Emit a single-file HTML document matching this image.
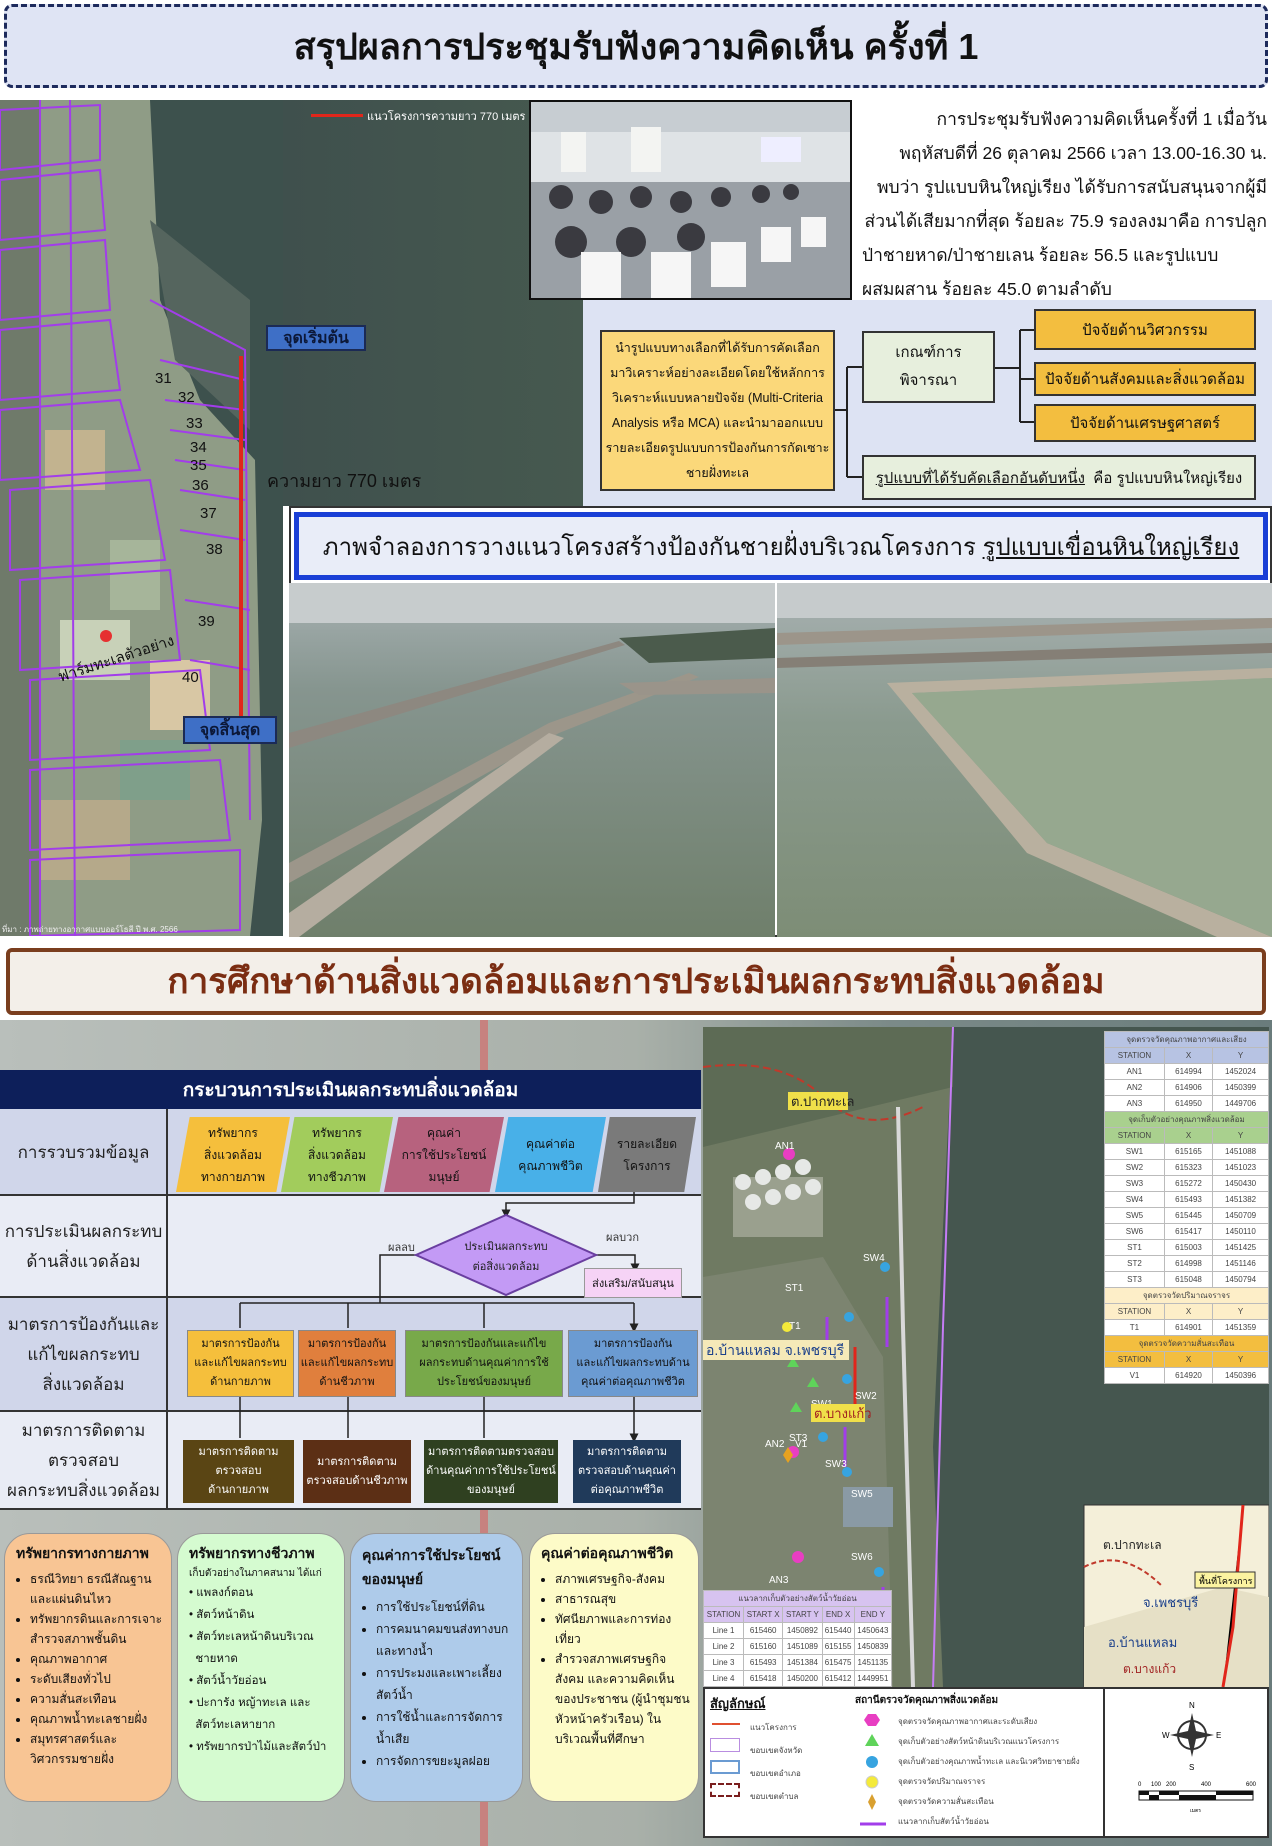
<!DOCTYPE html>
<html><head><meta charset="utf-8">
<style>
*{margin:0;padding:0;box-sizing:border-box}
body{width:1272px;height:1846px;position:relative;overflow:hidden;background:#fff;font-family:"Liberation Sans","Noto Sans CJK SC","WenQuanYi Zen Hei",sans-serif;color:#111}
.a{position:absolute}
.c{display:flex;align-items:center;justify-content:center;text-align:center}
.tb td{border:1px solid #bbb;text-align:center;font-size:8px;height:16px;color:#444}
.card{position:absolute;top:1533px;height:269px;border-radius:26px;border:1px solid #999;padding:9px 7px 8px 11px;font-size:12px;line-height:20px;overflow:hidden}
.card h4{font-size:14px;line-height:21px;margin-bottom:5px}
.card li{margin-left:14px}
.r1{position:absolute;top:1117px;height:75px;font-size:12px;line-height:22px;display:flex;align-items:center;justify-content:center;text-align:center;clip-path:polygon(12% 0,100% 0,88% 100%,0 100%)}
.b3{position:absolute;top:1330px;height:67px;font-size:11px;line-height:19px;display:flex;align-items:center;justify-content:center;text-align:center;border:1px solid #888}
.b4{position:absolute;top:1440px;height:63px;font-size:11px;line-height:19px;color:#fff;display:flex;align-items:center;justify-content:center;text-align:center}
.lab{position:absolute;left:0;width:167px;font-size:17px;line-height:30px;display:flex;align-items:center;justify-content:center;text-align:center;color:#222}
</style></head><body>

<div class="a c" style="left:4px;top:4px;width:1264px;height:84px;border:3px dashed #1d2a5c;border-radius:8px;background:#dfe4f4;font-size:36px;font-weight:bold">สรุปผลการประชุมรับฟังความคิดเห็น ครั้งที่ 1</div>

<!-- sea extension -->
<div class="a" style="left:283px;top:100px;width:300px;height:406px;background:linear-gradient(90deg,#3f504d,#46594f)"></div>

<!-- Top-left map -->
<svg class="a" style="left:0;top:100px" width="283" height="836" viewBox="0 0 283 836">
<rect width="283" height="836" fill="#3d514d"/>
<polygon points="0,0 150,0 160,200 200,300 255,360 262,720 250,836 0,836" fill="#8f9c86"/>
<polygon points="0,0 40,0 40,836 0,836" fill="#6f7a6a"/>
<rect x="45" y="330" width="60" height="60" fill="#c2b38f"/><rect x="110" y="440" width="50" height="70" fill="#a6b59a"/>
<rect x="60" y="520" width="70" height="60" fill="#c8d1b8"/><rect x="150" y="560" width="60" height="70" fill="#d8c7a4"/>
<rect x="120" y="640" width="70" height="60" fill="#7f9f8a"/><rect x="40" y="700" width="90" height="80" fill="#b5a98a"/>
<polygon points="150,120 250,200 250,330 175,260" fill="#55655e"/>
<g fill="none" stroke="#a23dea" stroke-width="2">
<path d="M0,10 L100,5 L100,60 L0,70Z M0,80 L100,70 L105,130 L0,140Z M0,150 L105,140 L110,210 L0,220Z M0,230 L110,220 L120,290 L0,300Z M0,310 L120,300 L140,370 L0,380Z M10,390 L150,380 L165,460 L10,470Z M20,480 L170,470 L180,560 L20,570Z M30,580 L200,570 L210,650 L30,660Z M30,670 L220,660 L230,740 L30,750Z M30,760 L240,750 L240,830 L30,836Z"/>
<path d="M150,200 L245,250 L250,720 M160,260 L245,280 M165,300 L245,310 M170,330 L245,340 M175,360 L245,370 M180,390 L245,400 M180,430 L245,440 M185,500 L250,510 M190,560 L250,570"/>
<path d="M40,0 L40,836 M70,0 L75,836"/>
</g>
<line x1="241" y1="256" x2="241" y2="618" stroke="#e1261b" stroke-width="4"/>
<circle cx="106" cy="536" r="6" fill="#e63030"/>
<g font-size="15" fill="#111"><text x="155" y="283">31</text><text x="178" y="302">32</text><text x="186" y="328">33</text><text x="190" y="352">34</text><text x="190" y="370">35</text><text x="192" y="390">36</text><text x="200" y="418">37</text><text x="206" y="454">38</text><text x="198" y="526">39</text><text x="182" y="582">40</text></g>
<text x="60" y="582" font-size="15" fill="#111" transform="rotate(-18 60 582)">ฟาร์มทะเลตัวอย่าง</text>
<text x="2" y="832" font-size="8" fill="#eee">ที่มา : ภาพถ่ายทางอากาศแบบออร์โธสี ปี พ.ศ. 2566</text>
</svg>
<div class="a" style="left:311px;top:114px;width:52px;height:3px;background:#e1261b"></div>
<div class="a" style="left:367px;top:107px;font-size:11px;color:#fff">แนวโครงการความยาว 770 เมตร</div>
<div class="a c" style="left:266px;top:325px;width:100px;height:26px;background:#3e6fc6;border:2px solid #1b2a55;font-size:16px;font-weight:bold;color:#0c1838">จุดเริ่มต้น</div>
<div class="a c" style="left:183px;top:716px;width:94px;height:28px;background:#3e6fc6;border:2px solid #1b2a55;font-size:16px;font-weight:bold;color:#0c1838">จุดสิ้นสุด</div>
<div class="a" style="left:267px;top:466px;font-size:18px;color:#111">ความยาว 770 เมตร</div>

<!-- Photo meeting -->
<svg class="a" style="left:529px;top:100px;border:2px solid #111" width="323" height="200">
<rect width="323" height="200" fill="#dfe3e6"/>
<rect x="0" y="0" width="323" height="30" fill="#c7cdd2"/>
<rect x="30" y="30" width="25" height="40" fill="#f3f4f2"/><rect x="100" y="25" width="30" height="45" fill="#f3f4f2"/><rect x="230" y="35" width="40" height="25" fill="#eef"/>
<rect x="0" y="80" width="323" height="120" fill="#9aa0a6"/>
<g fill="#3a3a40"><circle cx="30" cy="95" r="12"/><circle cx="70" cy="100" r="12"/><circle cx="110" cy="95" r="11"/><circle cx="150" cy="100" r="11"/><circle cx="190" cy="95" r="10"/><circle cx="230" cy="92" r="9"/><circle cx="260" cy="90" r="8"/><circle cx="40" cy="140" r="16"/><circle cx="100" cy="140" r="15"/><circle cx="160" cy="135" r="14"/></g>
<g fill="#f6f6f6"><rect x="50" y="150" width="40" height="50"/><rect x="120" y="150" width="40" height="50"/><rect x="180" y="140" width="35" height="45"/><rect x="230" y="125" width="30" height="35"/><rect x="270" y="115" width="25" height="30"/></g>
</svg>

<div class="a" style="left:862px;top:102px;width:405px;font-size:17.5px;line-height:34px;text-align:right;color:#111">
การประชุมรับฟังความคิดเห็นครั้งที่ 1 เมื่อวัน<br>พฤหัสบดีที่ 26 ตุลาคม 2566 เวลา 13.00-16.30 น.<br>พบว่า รูปแบบหินใหญ่เรียง ได้รับการสนับสนุนจากผู้มี<br>ส่วนได้เสียมากที่สุด ร้อยละ 75.9 รองลงมาคือ การปลูก<br><span style="display:inline-block;width:405px;text-align:left">ป่าชายหาด/ป่าชายเลน ร้อยละ 56.5 และรูปแบบ</span><br><span style="display:inline-block;width:405px;text-align:left">ผสมผสาน ร้อยละ 45.0 ตามลำดับ</span></div>

<div class="a" style="left:583px;top:300px;width:689px;height:206px;background:#dde3f3"></div>
<div class="a c" style="left:600px;top:330px;width:235px;height:161px;background:#fbd87a;border:2px solid #333;font-size:12.5px;line-height:25px">นำรูปแบบทางเลือกที่ได้รับการคัดเลือก<br>มาวิเคราะห์อย่างละเอียดโดยใช้หลักการ<br>วิเคราะห์แบบหลายปัจจัย (Multi-Criteria<br>Analysis หรือ MCA) และนำมาออกแบบ<br>รายละเอียดรูปแบบการป้องกันการกัดเซาะ<br>ชายฝั่งทะเล</div>
<div class="a c" style="left:862px;top:331px;width:133px;height:72px;background:#e7efdd;border:2px solid #333;font-size:15px;line-height:28px">เกณฑ์การ<br>พิจารณา</div>
<div class="a c" style="left:1034px;top:309px;width:222px;height:41px;background:#f3be3f;border:2px solid #333;font-size:15px">ปัจจัยด้านวิศวกรรม</div>
<div class="a c" style="left:1034px;top:362px;width:222px;height:34px;background:#f3be3f;border:2px solid #333;font-size:15px">ปัจจัยด้านสังคมและสิ่งแวดล้อม</div>
<div class="a c" style="left:1034px;top:404px;width:222px;height:38px;background:#f3be3f;border:2px solid #333;font-size:15px">ปัจจัยด้านเศรษฐศาสตร์</div>
<div class="a c" style="left:862px;top:455px;width:394px;height:45px;background:#e7efdd;border:2px solid #333;font-size:15px"><u>รูปแบบที่ได้รับคัดเลือกอันดับหนึ่ง</u>&nbsp; คือ รูปแบบหินใหญ่เรียง</div>
<svg class="a" style="left:835px;top:300px" width="200" height="206"><g stroke="#222" stroke-width="2" fill="none"><path d="M0,110 H12 M12,67 V177 M12,67 H27 M12,177 H27"/><path d="M160,68 H185 M185,30 V122 M185,30 H199 M185,79 H199 M185,122 H199"/></g></svg>

<div class="a" style="left:289px;top:506px;width:983px;height:431px;border:2px solid #333;background:#fff"></div>
<div class="a c" style="left:294px;top:512px;width:974px;height:68px;border:5px solid #1a3fd6;background:#e9edf8;font-size:24px">ภาพจำลองการวางแนวโครงสร้างป้องกันชายฝั่งบริเวณโครงการ&nbsp;<u>รูปแบบเขื่อนหินใหญ่เรียง</u></div>
<svg class="a" style="left:289px;top:583px" width="486" height="354">
<defs><linearGradient id="s1" x1="0" y1="0" x2="0" y2="1"><stop offset="0" stop-color="#a7b1b2"/><stop offset="0.3" stop-color="#86958f"/><stop offset="1" stop-color="#6f7f6b"/></linearGradient></defs>
<rect width="486" height="354" fill="url(#s1)"/>
<rect width="486" height="40" fill="#c7cccd"/>
<polygon points="330,55 486,45 486,75 360,80" fill="#4b5b4c"/>
<polygon points="0,150 330,58 336,62 0,165" fill="#8d8880"/>
<polygon points="0,280 260,140 400,90 410,94 270,150 0,300" fill="#9c968a"/>
<polygon points="330,100 486,95 486,110 350,112" fill="#9a948a"/>
<polygon points="0,330 260,150 275,155 10,354 0,354" fill="#b5ada0"/>
</svg>
<svg class="a" style="left:777px;top:583px" width="495" height="354">
<defs><linearGradient id="s2" x1="0" y1="0" x2="0" y2="1"><stop offset="0" stop-color="#a8b1b2"/><stop offset="0.4" stop-color="#8a9a8e"/><stop offset="1" stop-color="#7d8d76"/></linearGradient></defs>
<rect width="495" height="354" fill="url(#s2)"/>
<rect width="495" height="35" fill="#c6cbcc"/>
<polygon points="0,50 495,35 495,45 0,62" fill="#9c958a"/>
<polygon points="0,75 495,60 495,70 0,85" fill="#857f76"/>
<polygon points="110,100 495,85 495,95 135,110 270,260 495,354 440,354 250,270" fill="#b9b09f"/>
<polygon points="135,110 495,95 495,354 270,260" fill="#96a88f"/>
</svg>

<div class="a c" style="left:6px;top:948px;width:1260px;height:67px;border:4px solid #7a3e1e;border-radius:6px;background:#f3efe9;font-size:35px;font-weight:bold;color:#7b2d12">การศึกษาด้านสิ่งแวดล้อมและการประเมินผลกระทบสิ่งแวดล้อม</div>

<div class="a" style="left:0;top:1020px;width:1272px;height:826px;background:linear-gradient(90deg,#b9bfbb 0%,#a9b0a9 50%,#7b8a88 70%,#6a7c7c 100%)"></div>
<div class="a" style="left:480px;top:1020px;width:8px;height:826px;background:#d86060;opacity:.6"></div>

<div class="a" style="left:0;top:1070px;width:701px;height:440px;background:#e9ecf5;border-bottom:2px solid #333"></div>
<div class="a c" style="left:0;top:1070px;width:701px;height:39px;background:#0d1f5a;color:#fff;font-size:19px;font-weight:bold">กระบวนการประเมินผลกระทบสิ่งแวดล้อม</div>
<div class="a" style="left:0;top:1109px;width:701px;height:87px;background:#d0d6ea;border-bottom:2px solid #333"></div>
<div class="a" style="left:0;top:1196px;width:701px;height:102px;border-bottom:2px solid #333"></div>
<div class="a" style="left:0;top:1298px;width:701px;height:114px;background:#d0d6ea;border-bottom:2px solid #333"></div>
<div class="a" style="left:166px;top:1109px;width:2px;height:401px;background:#333"></div>
<div class="lab" style="top:1109px;height:87px">การรวบรวมข้อมูล</div>
<div class="lab" style="top:1196px;height:102px">การประเมินผลกระทบ<br>ด้านสิ่งแวดล้อม</div>
<div class="lab" style="top:1298px;height:114px">มาตรการป้องกันและ<br>แก้ไขผลกระทบ<br>สิ่งแวดล้อม</div>
<div class="lab" style="top:1412px;height:98px">มาตรการติดตาม<br>ตรวจสอบ<br>ผลกระทบสิ่งแวดล้อม</div>
<div class="r1" style="left:176px;width:114px;background:#f5bf3c">ทรัพยากร<br>สิ่งแวดล้อม<br>ทางกายภาพ</div>
<div class="r1" style="left:281px;width:112px;background:#a2cc5c">ทรัพยากร<br>สิ่งแวดล้อม<br>ทางชีวภาพ</div>
<div class="r1" style="left:384px;width:120px;background:#b7627e">คุณค่า<br>การใช้ประโยชน์<br>มนุษย์</div>
<div class="r1" style="left:495px;width:111px;background:#48b0e8">คุณค่าต่อ<br>คุณภาพชีวิต</div>
<div class="r1" style="left:598px;width:98px;background:#7a7a7a">รายละเอียด<br>โครงการ</div>
<svg class="a" style="left:0;top:1190px" width="701" height="260">
<defs><marker id="ar2" markerWidth="6" markerHeight="6" refX="3" refY="3" orient="auto"><path d="M0,0 L6,3 L0,6Z" fill="#222"/></marker></defs>
<g stroke="#222" stroke-width="1.5" fill="none">
<path d="M634,2 V13 H506 V24" marker-end="url(#ar2)"/>
<path d="M416,65 H380 V113"/>
<path d="M596,65 H635 V78" marker-end="url(#ar2)"/>
<path d="M240,113 H634"/>
<path d="M240,113 V138 M348,113 V138 M484,113 V138 M634,113 V138" marker-end="url(#ar2)"/>
<path d="M240,207 V248 M348,207 V248 M484,207 V248 M634,207 V248" marker-end="url(#ar2)"/>
</g>
<polygon points="506,25 596,65 506,105 416,65" fill="#c39af5" stroke="#6a3fa0" stroke-width="2"/>
<text x="506" y="60" font-size="11" text-anchor="middle" fill="#222">ประเมินผลกระทบ</text>
<text x="506" y="80" font-size="11" text-anchor="middle" fill="#222">ต่อสิ่งแวดล้อม</text>
<text x="388" y="61" font-size="11" fill="#333">ผลลบ</text>
<text x="606" y="51" font-size="11" fill="#333">ผลบวก</text>
</svg>
<div class="a c" style="left:584px;top:1268px;width:98px;height:30px;background:#f6d3f6;border:1px solid #999;font-size:11px">ส่งเสริม/สนับสนุน</div>
<div class="b3" style="left:187px;width:107px;background:#f5bf3c">มาตรการป้องกัน<br>และแก้ไขผลกระทบ<br>ด้านกายภาพ</div>
<div class="b3" style="left:298px;width:98px;background:#e07f3d">มาตรการป้องกัน<br>และแก้ไขผลกระทบ<br>ด้านชีวภาพ</div>
<div class="b3" style="left:405px;width:158px;background:#78a94a">มาตรการป้องกันและแก้ไข<br>ผลกระทบด้านคุณค่าการใช้<br>ประโยชน์ของมนุษย์</div>
<div class="b3" style="left:568px;width:130px;background:#6b9bd2">มาตรการป้องกัน<br>และแก้ไขผลกระทบด้าน<br>คุณค่าต่อคุณภาพชีวิต</div>
<div class="b4" style="left:183px;width:111px;background:#5a4514">มาตรการติดตาม<br>ตรวจสอบ<br>ด้านกายภาพ</div>
<div class="b4" style="left:303px;width:108px;background:#5c2f15">มาตรการติดตาม<br>ตรวจสอบด้านชีวภาพ</div>
<div class="b4" style="left:424px;width:134px;background:#2f4020">มาตรการติดตามตรวจสอบ<br>ด้านคุณค่าการใช้ประโยชน์<br>ของมนุษย์</div>
<div class="b4" style="left:573px;width:108px;background:#203a5a">มาตรการติดตาม<br>ตรวจสอบด้านคุณค่า<br>ต่อคุณภาพชีวิต</div>

<div class="card" style="left:4px;width:168px;background:#f8c594"><h4>ทรัพยากรทางกายภาพ</h4><ul><li>ธรณีวิทยา ธรณีสัณฐานและแผ่นดินไหว</li><li>ทรัพยากรดินและการเจาะสำรวจสภาพชั้นดิน</li><li>คุณภาพอากาศ</li><li>ระดับเสียงทั่วไป</li><li>ความสั่นสะเทือน</li><li>คุณภาพน้ำทะเลชายฝั่ง</li><li>สมุทรศาสตร์และวิศวกรรมชายฝั่ง</li></ul></div>
<div class="card" style="left:177px;width:168px;background:#d5fbd0"><h4 style="margin-bottom:2px">ทรัพยากรทางชีวภาพ</h4><div style="font-size:10px;line-height:16px">เก็บตัวอย่างในภาคสนาม ได้แก่</div><div style="line-height:22px;font-size:11.5px">• แพลงก์ตอน<br>• สัตว์หน้าดิน<br>• สัตว์ทะเลหน้าดินบริเวณ<br>&nbsp;&nbsp;ชายหาด<br>• สัตว์น้ำวัยอ่อน<br>• ปะการัง หญ้าทะเล และ<br>&nbsp;&nbsp;สัตว์ทะเลหายาก<br>• ทรัพยากรป่าไม้และสัตว์ป่า</div></div>
<div class="card" style="left:350px;width:173px;background:#aecbea"><h4 style="line-height:24px">คุณค่าการใช้ประโยชน์<br>ของมนุษย์</h4><ul style="line-height:22px"><li>การใช้ประโยชน์ที่ดิน</li><li>การคมนาคมขนส่งทางบกและทางน้ำ</li><li>การประมงและเพาะเลี้ยงสัตว์น้ำ</li><li>การใช้น้ำและการจัดการน้ำเสีย</li><li>การจัดการขยะมูลฝอย</li></ul></div>
<div class="card" style="left:529px;width:170px;background:#fdfbc8"><h4>คุณค่าต่อคุณภาพชีวิต</h4><ul><li>สภาพเศรษฐกิจ-สังคม</li><li>สาธารณสุข</li><li>ทัศนียภาพและการท่องเที่ยว</li><li>สำรวจสภาพเศรษฐกิจ สังคม และความคิดเห็นของประชาชน (ผู้นำชุมชน หัวหน้าครัวเรือน) ในบริเวณพื้นที่ศึกษา</li></ul></div>

<svg class="a" style="left:703px;top:1027px" width="566" height="811" viewBox="0 0 566 811">
<rect width="566" height="811" fill="#45564f"/>
<polygon points="0,0 250,0 240,200 230,420 240,660 0,660" fill="#6f7a62"/>
<polygon points="0,0 250,0 250,60 0,120" fill="#5d6b55"/>
<polygon points="0,250 120,230 180,330 190,660 0,660" fill="#7c8470"/>
<rect x="30" y="150" width="90" height="60" fill="#9aa08e"/>
<g fill="#e6e8e6"><circle cx="40" cy="155" r="8"/><circle cx="60" cy="150" r="8"/><circle cx="80" cy="145" r="8"/><circle cx="100" cy="140" r="8"/><circle cx="50" cy="175" r="8"/><circle cx="70" cy="170" r="8"/><circle cx="90" cy="165" r="8"/><circle cx="110" cy="160" r="8"/></g>
<rect x="140" y="460" width="50" height="40" fill="#8a9aa5"/>
<path d="M0,40 Q80,30 120,70 T220,80" stroke="#c0392b" stroke-width="2" stroke-dasharray="8,4" fill="none"/>
<path d="M195,80 L200,300 L210,660" stroke="#d9d9d9" stroke-width="4" fill="none"/>
<path d="M250,0 L240,300 L230,660" stroke="#c57cf5" stroke-width="2" fill="none"/>
<line x1="152" y1="320" x2="152" y2="390" stroke="#e1261b" stroke-width="3"/>
<g stroke="#a23dea" stroke-width="3"><line x1="184" y1="270" x2="184" y2="320"/><line x1="142" y1="400" x2="142" y2="440"/><line x1="124" y1="290" x2="124" y2="330"/><line x1="180" y1="560" x2="180" y2="610"/></g>
<g fill="#e83ec2"><circle cx="86" cy="127" r="6"/><circle cx="95" cy="530" r="6"/><circle cx="90" cy="425" r="6"/></g>
<g fill="#37a4e0"><circle cx="182" cy="240" r="5"/><circle cx="146" cy="290" r="5"/><circle cx="144" cy="445" r="5"/><circle cx="120" cy="410" r="5"/><circle cx="176" cy="545" r="5"/><circle cx="144" cy="352" r="5"/></g>
<g fill="#5fd35a"><polygon points="90,330 96,340 84,340"/><polygon points="93,375 99,385 87,385"/><polygon points="110,350 116,360 104,360"/></g>
<circle cx="84" cy="300" r="5" fill="#f4ea3a"/>
<polygon points="85,420 90,428 85,436 80,428" fill="#e6a21f"/>
<g font-size="10" fill="#fff"><text x="86" y="302">T1</text><text x="82" y="264">ST1</text><text x="80" y="330">ST2</text><text x="86" y="414">ST3</text><text x="108" y="380">SW1</text><text x="152" y="372">SW2</text><text x="122" y="440">SW3</text><text x="160" y="234">SW4</text><text x="148" y="533">SW6</text><text x="148" y="470">SW5</text><text x="62" y="420">AN2</text><text x="92" y="420">V1</text><text x="72" y="122">AN1</text><text x="66" y="556">AN3</text></g>
<rect x="85" y="65" width="60" height="18" fill="#f0e04a"/><text x="88" y="79" font-size="13" fill="#222">ต.ปากทะเล</text>
<rect x="0" y="313" width="146" height="20" fill="#f5e9b8"/><text x="3" y="328" font-size="14" fill="#1a3f8a">อ.บ้านแหลม จ.เพชรบุรี</text>
<rect x="108" y="377" width="54" height="18" fill="#f0e04a"/><text x="111" y="391" font-size="13" fill="#a02020">ต.บางแก้ว</text>
<rect x="381" y="478" width="185" height="182" fill="#f4efd9" stroke="#333"/>
<path d="M381,600 L520,560 L566,570 L566,660 L381,660Z" fill="#e6e0c6"/>
<path d="M540,478 L530,600 L520,660" stroke="#e1261b" stroke-width="3"/>
<path d="M381,540 Q420,520 460,560" stroke="#c0392b" stroke-dasharray="5,3" fill="none" stroke-width="2"/>
<text x="400" y="522" font-size="12" fill="#222">ต.ปากทะเล</text>
<text x="440" y="580" font-size="13" fill="#1a3f8a">จ.เพชรบุรี</text>
<text x="405" y="620" font-size="13" fill="#1a3f8a">อ.บ้านแหลม</text>
<text x="420" y="646" font-size="12" fill="#a02020">ต.บางแก้ว</text>
<rect x="492" y="545" width="60" height="16" fill="#fbf3a0" stroke="#333"/><text x="496" y="557" font-size="9">พื้นที่โครงการ</text>
</svg>
<table class="a tb" style="left:1104px;top:1031px;width:165px;border-collapse:collapse;background:#fff">
<tr><td colspan="3" style="background:#b7c3e3">จุดตรวจวัดคุณภาพอากาศและเสียง</td></tr>
<tr style="background:#b7c3e3"><td>STATION</td><td>X</td><td>Y</td></tr>
<tr><td>AN1</td><td>614994</td><td>1452024</td></tr><tr><td>AN2</td><td>614906</td><td>1450399</td></tr><tr><td>AN3</td><td>614950</td><td>1449706</td></tr>
<tr><td colspan="3" style="background:#a9d08e">จุดเก็บตัวอย่างคุณภาพสิ่งแวดล้อม</td></tr>
<tr style="background:#a9d08e"><td>STATION</td><td>X</td><td>Y</td></tr>
<tr><td>SW1</td><td>615165</td><td>1451088</td></tr><tr><td>SW2</td><td>615323</td><td>1451023</td></tr><tr><td>SW3</td><td>615272</td><td>1450430</td></tr><tr><td>SW4</td><td>615493</td><td>1451382</td></tr><tr><td>SW5</td><td>615445</td><td>1450709</td></tr><tr><td>SW6</td><td>615417</td><td>1450110</td></tr><tr><td>ST1</td><td>615003</td><td>1451425</td></tr><tr><td>ST2</td><td>614998</td><td>1451146</td></tr><tr><td>ST3</td><td>615048</td><td>1450794</td></tr>
<tr><td colspan="3" style="background:#fdeec8">จุดตรวจวัดปริมาณจราจร</td></tr>
<tr style="background:#fdeec8"><td>STATION</td><td>X</td><td>Y</td></tr>
<tr><td>T1</td><td>614901</td><td>1451359</td></tr>
<tr><td colspan="3" style="background:#f3be3f">จุดตรวจวัดความสั่นสะเทือน</td></tr>
<tr style="background:#f3be3f"><td>STATION</td><td>X</td><td>Y</td></tr>
<tr><td>V1</td><td>614920</td><td>1450396</td></tr>
</table>
<table class="a tb" style="left:703px;top:1590px;width:189px;border-collapse:collapse;background:#fff">
<tr style="background:#d7c3f0"><td colspan="5">แนวลากเก็บตัวอย่างสัตว์น้ำวัยอ่อน</td></tr>
<tr style="background:#d7c3f0"><td>STATION</td><td>START X</td><td>START Y</td><td>END X</td><td>END Y</td></tr>
<tr><td>Line 1</td><td>615460</td><td>1450892</td><td>615440</td><td>1450643</td></tr>
<tr><td>Line 2</td><td>615160</td><td>1451089</td><td>615155</td><td>1450839</td></tr>
<tr><td>Line 3</td><td>615493</td><td>1451384</td><td>615475</td><td>1451135</td></tr>
<tr><td>Line 4</td><td>615418</td><td>1450200</td><td>615412</td><td>1449951</td></tr>
</table>
<div class="a" style="left:703px;top:1687px;width:566px;height:151px;background:#fff;border:2px solid #333"></div>
<div class="a" style="left:1103px;top:1687px;width:2px;height:151px;background:#333"></div>
<div class="a" style="left:710px;top:1693px;font-size:13px;font-weight:bold;text-decoration:underline">สัญลักษณ์</div>
<div class="a" style="left:855px;top:1693px;font-size:10px;font-weight:bold">สถานีตรวจวัดคุณภาพสิ่งแวดล้อม</div>
<div class="a" style="left:712px;top:1723px;width:28px;height:2px;background:#e05030"></div>
<div class="a" style="left:710px;top:1738px;width:30px;height:14px;border:1px solid #b98de0"></div>
<div class="a" style="left:710px;top:1760px;width:30px;height:14px;border:2px solid #6b9bd2"></div>
<div class="a" style="left:710px;top:1783px;width:30px;height:14px;border:2px dashed #7a1e1e"></div>
<div class="a" style="left:750px;top:1716px;font-size:8px;line-height:23px;color:#444">แนวโครงการ<br>ขอบเขตจังหวัด<br>ขอบเขตอำเภอ<br>ขอบเขตตำบล</div>
<svg class="a" style="left:858px;top:1712px" width="30" height="120"><polygon points="10,2 18,2 22,8 18,14 10,14 6,8" fill="#e83ec2"/><polygon points="14,22 21,34 7,34" fill="#5fd35a"/><circle cx="14" cy="50" r="6" fill="#37a4e0"/><circle cx="14" cy="70" r="6" fill="#f4ea3a" stroke="#ccc"/><polygon points="14,82 18,90 14,98 10,90" fill="#d9a030"/><line x1="2" y1="112" x2="28" y2="112" stroke="#a23dea" stroke-width="3"/></svg>
<div class="a" style="left:898px;top:1712px;font-size:8px;line-height:20px;color:#444">จุดตรวจวัดคุณภาพอากาศและระดับเสียง<br>จุดเก็บตัวอย่างสัตว์หน้าดินบริเวณแนวโครงการ<br>จุดเก็บตัวอย่างคุณภาพน้ำทะเล และนิเวศวิทยาชายฝั่ง<br>จุดตรวจวัดปริมาณจราจร<br>จุดตรวจวัดความสั่นสะเทือน<br>แนวลากเก็บสัตว์น้ำวัยอ่อน</div>
<svg class="a" style="left:1106px;top:1690px" width="160" height="146">
<g transform="translate(86,45)"><circle r="14" fill="none" stroke="#333" stroke-width="2"/><polygon points="0,-22 4,-4 22,0 4,4 0,22 -4,4 -22,0 -4,-4" fill="#333"/></g>
<text x="83" y="18" font-size="8">N</text><text x="83" y="80" font-size="8">S</text><text x="56" y="48" font-size="8">W</text><text x="110" y="48" font-size="8">E</text>
<text x="32" y="96" font-size="6">0</text><text x="45" y="96" font-size="6">100</text><text x="60" y="96" font-size="6">200</text><text x="95" y="96" font-size="6">400</text><text x="140" y="96" font-size="6">600</text>
<rect x="33" y="101" width="114" height="9" fill="#fff" stroke="#111"/>
<rect x="33" y="101" width="10" height="4" fill="#111"/><rect x="43" y="105" width="10" height="5" fill="#111"/><rect x="53" y="101" width="20" height="4" fill="#111"/><rect x="73" y="105" width="37" height="5" fill="#111"/><rect x="110" y="101" width="37" height="4" fill="#111"/>
<text x="84" y="122" font-size="5">เมตร</text>
</svg>
</body></html>
